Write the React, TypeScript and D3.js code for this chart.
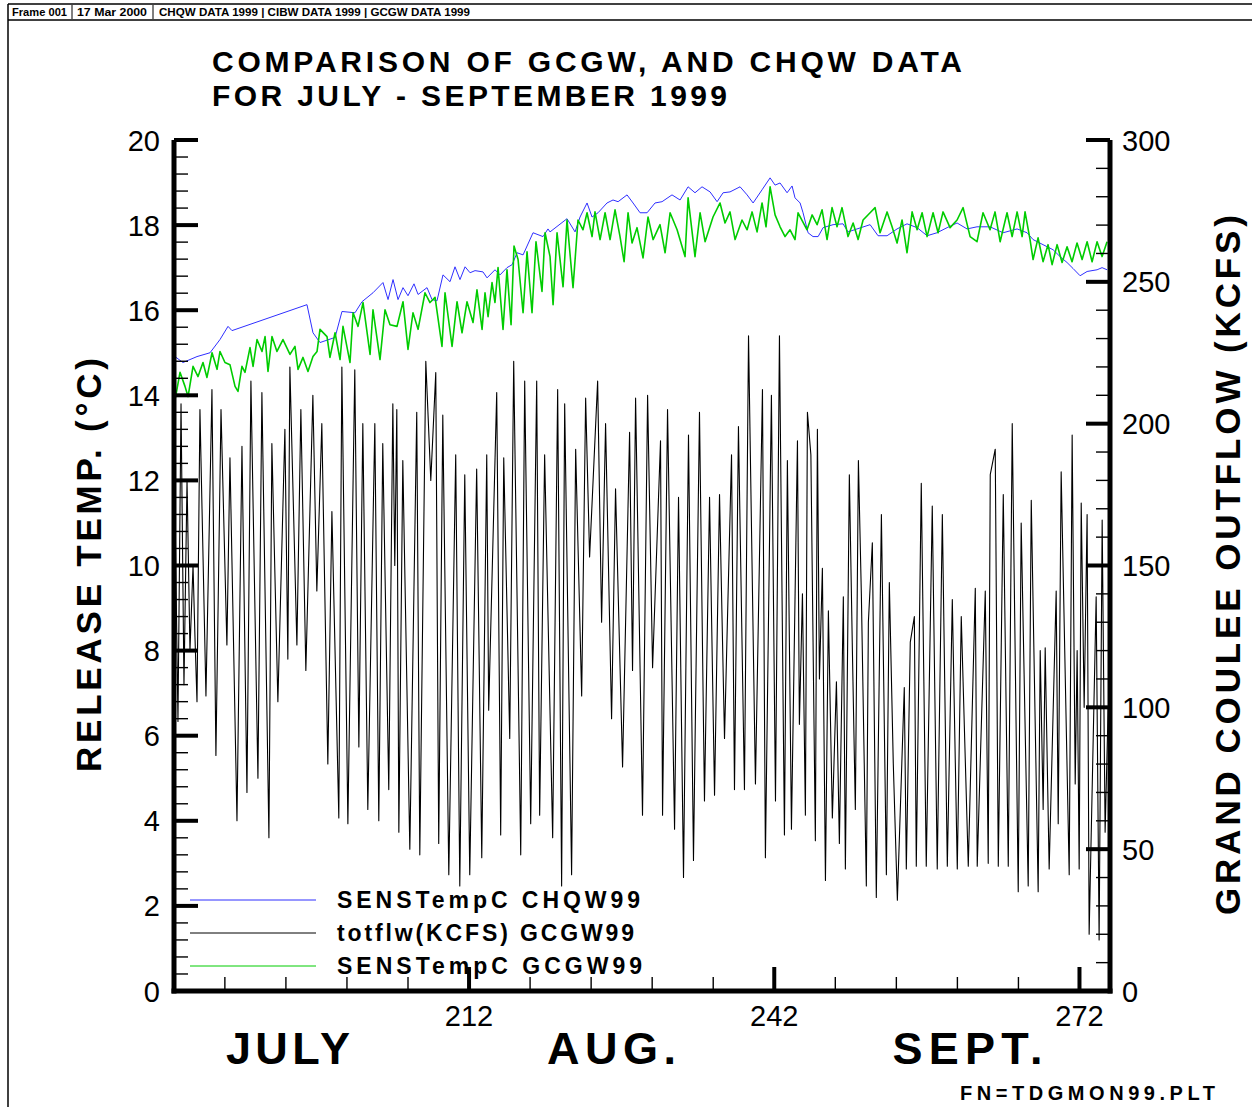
import React from 'react';
import * as d3 from 'd3';

// ---- data (day of year 1999) ----
const flowDay = [
  183.10, 183.39, 183.69, 183.98, 184.28, 184.57, 184.87, 185.06, 185.26, 185.55,
  186.14, 186.73, 187.12, 187.62, 188.20, 188.50, 189.19, 189.68, 190.17, 190.56,
  191.25, 191.64, 192.33, 192.62, 193.21, 193.90, 194.19, 194.39, 195.08, 195.47,
  195.96, 196.65, 197.04, 197.53, 198.12, 198.52, 199.20, 199.50, 200.09, 200.77,
  201.17, 201.56, 202.05, 202.74, 203.13, 203.52, 204.11, 204.51, 204.70, 204.90,
  205.10, 205.49, 206.18, 206.86, 207.16, 207.75, 208.24, 208.73, 209.02, 209.42,
  210.01, 210.69, 211.09, 211.58, 212.07, 212.75, 213.25, 213.74, 213.93, 214.72,
  215.11, 215.41, 216.00, 216.39, 217.08, 217.47, 218.06, 218.65, 218.94, 219.43,
  220.22, 220.71, 221.10, 221.40, 222.08, 222.48, 223.07, 223.46, 223.85, 224.64,
  225.03, 225.42, 226.01, 226.40, 227.09, 227.78, 228.07, 228.37, 229.05, 229.55,
  230.04, 230.82, 231.02, 231.51, 232.20, 232.59, 233.08, 233.57, 234.06, 234.65,
  235.14, 235.64, 236.13, 236.62, 237.11, 237.80, 238.09, 238.48, 239.07, 239.47,
  240.15, 240.84, 241.13, 241.72, 242.12, 242.51, 243.00, 243.29, 243.69, 244.28,
  244.47, 244.77, 245.06, 245.26, 245.60, 246.04, 246.24, 246.44, 246.73, 247.03,
  247.32, 247.71, 248.11, 248.40, 248.79, 248.99, 249.38, 249.68, 249.97, 250.27,
  250.56, 251.05, 251.25, 251.64, 252.03, 252.53, 253.02, 253.31, 253.70, 254.10,
  254.78, 254.98, 255.37, 255.77, 255.96, 256.45, 256.94, 257.53, 258.02, 258.52,
  259.01, 259.50, 259.99, 260.38, 261.07, 261.76, 261.95, 262.74, 263.03, 263.23,
  263.72, 264.02, 264.51, 265.00, 265.39, 265.98, 266.27, 266.96, 267.26, 267.94,
  268.14, 268.43, 268.63, 269.02, 269.71, 269.91, 270.20, 270.99, 271.28, 271.58,
  271.77, 271.97, 272.17, 272.46, 272.75, 272.95, 273.64, 273.93, 274.23, 274.52,
  274.82,
];
const flowKcfs = [
  170, 95, 207, 108, 180, 120, 150, 125, 102, 205,
  104, 212, 83, 205, 122, 188, 60, 192, 70, 215,
  75, 211, 54, 193, 102, 198, 117, 220, 122, 205,
  113, 210, 141, 200, 80, 169, 61, 220, 59, 219,
  86, 200, 64, 200, 60, 193, 71, 207, 150, 205,
  56, 187, 50, 204, 48, 222, 180, 218, 52, 203,
  41, 189, 37, 182, 41, 184, 47, 189, 99, 211,
  55, 188, 89, 222, 48, 215, 59, 215, 62, 189,
  54, 212, 37, 207, 41, 191, 104, 209, 153, 215,
  130, 200, 96, 177, 79, 197, 113, 209, 62, 210,
  114, 194, 62, 205, 57, 174, 40, 196, 46, 204,
  67, 174, 69, 175, 89, 189, 71, 199, 71, 231,
  73, 212, 47, 210, 67, 231, 55, 187, 57, 194,
  94, 140, 62, 204, 189, 53, 198, 110, 149, 39,
  134, 61, 109, 52, 139, 43, 182, 120, 64, 187,
  140, 37, 130, 158, 33, 168, 41, 144, 80, 32,
  107, 43, 123, 132, 44, 179, 44, 171, 43, 168,
  44, 138, 43, 132, 44, 142, 44, 141, 45, 182,
  191, 44, 175, 44, 200, 35, 165, 37, 173, 35,
  120, 64, 121, 43, 141, 59, 183, 41, 196, 73,
  120, 43, 172, 100, 168, 20, 139, 18, 166, 56,
  100,
];

const chqwDay = [
  183.10, 183.88, 185.26, 186.54, 187.52, 188.31, 188.70, 196.07, 196.66, 197.35,
  198.83, 199.51, 200.79, 201.48, 202.56, 203.54, 204.04, 204.53, 205.02, 205.51,
  206.00, 206.59, 206.99, 207.87, 208.36, 208.85, 209.44, 210.13, 210.62, 211.11,
  211.61, 212.10, 212.59, 213.37, 213.77, 214.55, 215.05, 215.73, 216.23, 216.72,
  217.31, 218.29, 219.27, 219.76, 219.96, 221.63, 222.42, 222.91, 223.60, 224.09,
  224.68, 225.56, 226.15, 226.65, 227.53, 228.12, 228.81, 229.50, 230.28, 230.97,
  231.95, 232.74, 233.53, 234.21, 234.90, 235.69, 236.38, 236.97, 237.65, 238.64,
  239.33, 239.92, 240.80, 241.59, 242.08, 242.57, 243.26, 243.75, 244.04, 244.54,
  244.83, 245.32, 245.81, 246.31, 246.80, 247.78, 248.76, 249.25, 250.14, 251.42,
  252.20, 253.09, 254.07, 255.05, 256.04, 257.02, 258.00, 258.99, 259.97, 260.95,
  261.93, 263.21, 264.49, 265.87, 266.85, 267.44, 268.42, 269.41, 270.09, 270.78,
  271.37, 272.06, 272.75, 273.73, 274.22, 274.71,
];
const chqwTemp = [
  14.91, 14.77, 14.91, 15.00, 15.31, 15.62, 15.52, 16.13, 15.47, 15.24,
  15.36, 15.97, 15.94, 16.20, 16.41, 16.65, 16.25, 16.72, 16.25, 16.53,
  16.34, 16.62, 16.37, 16.53, 16.25, 16.22, 16.83, 16.67, 17.02, 16.72,
  17.02, 16.88, 16.93, 16.90, 16.76, 16.95, 16.83, 17.00, 17.07, 17.35,
  17.30, 17.82, 17.73, 17.91, 17.84, 18.15, 17.84, 18.19, 18.52, 18.19,
  18.29, 18.52, 18.59, 18.55, 18.71, 18.52, 18.29, 18.29, 18.52, 18.55,
  18.71, 18.59, 18.90, 18.76, 18.90, 18.78, 18.55, 18.76, 18.78, 18.90,
  18.71, 18.52, 18.83, 19.11, 18.94, 18.99, 18.76, 18.92, 18.64, 18.52,
  18.29, 17.82, 17.73, 17.73, 17.94, 18.01, 18.03, 17.84, 17.91, 18.01,
  17.75, 17.75, 17.91, 18.03, 17.94, 17.75, 17.82, 17.94, 18.05, 17.91,
  17.96, 17.96, 17.82, 17.91, 17.82, 17.66, 17.54, 17.42, 17.26, 17.12,
  16.98, 16.81, 16.91, 16.95, 17.00, 16.95,
];

const gcgwDay = [
  183.10, 183.29, 183.59, 184.08, 184.38, 184.87, 185.36, 185.85, 186.24, 186.74,
  187.23, 187.52, 188.01, 188.50, 189.00, 189.29, 189.68, 189.98, 190.47, 190.77,
  191.16, 191.65, 191.95, 192.24, 192.63, 193.12, 193.71, 194.40, 194.89, 195.19,
  195.68, 196.17, 196.66, 197.06, 197.35, 198.04, 198.33, 198.83, 199.32, 199.61,
  200.30, 200.60, 201.09, 201.58, 202.27, 202.56, 203.25, 203.74, 204.23, 204.92,
  205.51, 206.00, 206.49, 206.99, 207.67, 208.16, 208.66, 209.34, 209.64, 210.33,
  210.82, 211.31, 211.80, 212.39, 212.78, 213.28, 213.57, 213.87, 214.26, 214.55,
  214.85, 215.34, 215.73, 216.13, 216.42, 216.82, 217.31, 217.70, 218.19, 218.58,
  219.17, 219.47, 219.96, 220.26, 220.65, 221.24, 221.63, 222.22, 222.71, 223.20,
  223.60, 224.09, 224.38, 224.88, 225.37, 225.86, 226.35, 226.84, 227.24, 227.63,
  228.02, 228.51, 229.10, 229.59, 230.09, 230.77, 231.27, 231.76, 232.45, 233.23,
  233.53, 234.21, 234.71, 235.20, 235.98, 236.67, 237.16, 237.65, 238.15, 238.83,
  239.33, 239.82, 240.31, 240.80, 241.19, 241.59, 242.08, 242.57, 243.06, 243.55,
  244.04, 244.34, 245.22, 245.72, 246.21, 246.70, 247.19, 247.68, 248.17, 248.66,
  249.25, 249.75, 250.24, 250.73, 251.42, 251.91, 252.40, 253.09, 253.58, 254.07,
  254.56, 255.05, 255.55, 256.04, 256.53, 257.02, 257.61, 258.10, 258.59, 259.28,
  259.97, 260.56, 261.25, 261.93, 262.52, 263.21, 263.70, 264.20, 264.88, 265.38,
  265.87, 266.36, 266.65, 267.14, 267.44, 267.93, 268.42, 268.91, 269.31, 269.80,
  270.29, 270.78, 271.27, 271.76, 272.26, 272.75, 273.24, 273.73, 274.22, 274.71,
];
const gcgwTemp = [
  13.90, 14.14, 14.54, 14.21, 13.97, 14.68, 14.44, 14.77, 14.42, 15.00,
  14.61, 15.03, 14.77, 14.72, 14.21, 14.09, 14.68, 14.54, 15.12, 14.68,
  15.31, 15.03, 15.38, 14.56, 15.38, 15.03, 15.31, 14.96, 15.15, 14.61,
  14.89, 14.56, 14.91, 15.03, 15.55, 15.38, 14.89, 15.47, 14.84, 15.62,
  14.77, 15.94, 15.62, 16.18, 14.96, 16.01, 14.84, 16.01, 15.66, 15.62,
  16.20, 15.08, 15.94, 15.55, 16.41, 16.18, 16.30, 15.15, 16.41, 15.15,
  16.20, 15.47, 16.20, 15.71, 16.48, 15.55, 16.41, 15.85, 16.65, 16.18,
  17.00, 15.55, 16.95, 15.66, 17.51, 17.19, 15.94, 17.37, 15.94, 17.61,
  16.44, 17.82, 17.26, 16.13, 17.82, 16.55, 18.12, 16.53, 18.12, 17.89,
  18.29, 17.73, 18.31, 17.66, 18.29, 17.66, 18.36, 17.73, 17.14, 18.29,
  17.58, 17.94, 17.23, 18.19, 17.66, 18.01, 17.35, 18.29, 17.89, 17.26,
  18.64, 17.26, 18.29, 17.61, 18.19, 18.52, 18.05, 18.31, 17.66, 18.12,
  17.89, 18.31, 17.84, 18.52, 17.96, 18.90, 18.24, 17.96, 17.73, 17.89,
  17.66, 18.29, 17.89, 18.24, 18.01, 18.36, 17.66, 18.41, 17.96, 18.41,
  17.73, 18.05, 17.66, 18.12, 18.29, 18.41, 17.82, 18.31, 17.96, 17.58,
  18.12, 17.35, 18.31, 17.89, 18.29, 17.73, 18.29, 17.82, 18.31, 17.94,
  18.12, 18.41, 17.73, 17.61, 18.29, 17.89, 18.31, 17.61, 18.29, 17.73,
  18.31, 17.73, 18.31, 17.66, 17.19, 17.70, 17.14, 17.54, 17.07, 17.54,
  17.12, 17.49, 17.14, 17.58, 17.19, 17.61, 17.14, 17.61, 17.26, 17.61,
];

const tempTicks = [0, 2, 4, 6, 8, 10, 12, 14, 16, 18, 20];
const flowTicks = [0, 50, 100, 150, 200, 250, 300];
const dayTicks = [212, 242, 272];
const dayMinorTicks = [188, 194, 200, 206, 218, 224, 230, 236, 248, 254, 260, 266];
const months = [
  { label: 'JULY', day: 194.2, len: 124 },
  { label: 'AUG.', day: 226.0, len: 129 },
  { label: 'SEPT.', day: 261.0, len: 150 },
];
const legendItems = [
  { label: 'SENSTempC CHQW99', color: '#2f2fff', len: 303 },
  { label: 'totflw(KCFS) GCGW99', color: '#000000', len: 297 },
  { label: 'SENSTempC GCGW99', color: '#00cc00', len: 305 },
];

const FONT = '"Liberation Sans", Arial, Helvetica, sans-serif';

export default function App() {
  const W = 1252;
  const H = 1107;
  const x = d3.scaleLinear().domain([183, 275]).range([174, 1110]);
  const yT = d3.scaleLinear().domain([0, 20]).range([991, 140]);
  const yF = d3.scaleLinear().domain([0, 300]).range([991, 140]);

  const flowLine = d3.line<number>().x((_, i) => x(flowDay[i])).y(d => yF(d));
  const chqwLine = d3.line<number>().x((_, i) => x(chqwDay[i])).y(d => yT(d));
  const gcgwLine = d3.line<number>().x((_, i) => x(gcgwDay[i])).y(d => yT(d));

  const tempMinor = d3.range(0, 20.001, 0.4).filter(v => Math.abs(v / 2 - Math.round(v / 2)) > 0.01);
  const flowMinor = d3.range(0, 301, 10).filter(v => v % 50 !== 0);

  const [x0, x1] = x.range();
  const yb = yT(0);
  const yt = yT(20);

  return (
    <svg width={W} height={H} style={{ position: 'absolute', left: 0, top: 0, background: '#fff' }}
      fontFamily={FONT}>
      <defs>
        <clipPath id="plot">
          <rect x={x0} y={yt - 5} width={x1 - x0} height={yb - yt + 5} />
        </clipPath>
      </defs>

      {/* frame + header */}
      <line x1={8} y1={4} x2={W} y2={4} stroke="#000" strokeWidth={1.5} />
      <line x1={8} y1={20} x2={W} y2={20} stroke="#000" strokeWidth={1.5} />
      <line x1={8} y1={4} x2={8} y2={H} stroke="#000" strokeWidth={1.5} />
      <line x1={72} y1={5} x2={72} y2={19} stroke="#000" strokeWidth={1} />
      <line x1={153} y1={5} x2={153} y2={19} stroke="#000" strokeWidth={1} />
      <g fontSize={10} fontWeight="bold">
        <text x={12} y={16} textLength={55} lengthAdjust="spacingAndGlyphs">Frame 001</text>
        <text x={77} y={16} textLength={70} lengthAdjust="spacingAndGlyphs">17 Mar 2000</text>
        <text x={159} y={16} textLength={311} lengthAdjust="spacingAndGlyphs">CHQW DATA 1999 | CIBW DATA 1999 | GCGW DATA 1999</text>
      </g>

      {/* title */}
      <g fontSize={30} fontWeight="bold">
        <text x={212} y={72} textLength={750} lengthAdjust="spacing">COMPARISON OF GCGW, AND CHQW DATA</text>
        <text x={212} y={106} textLength={515} lengthAdjust="spacing">FOR JULY - SEPTEMBER 1999</text>
      </g>

      {/* series */}
      <g clipPath="url(#plot)" fill="none" strokeLinejoin="round">
        <path d={flowLine(flowKcfs) || ''} stroke="#000" strokeWidth={1.1} />
        <path d={chqwLine(chqwTemp) || ''} stroke="#2f2fff" strokeWidth={1} />
        <path d={gcgwLine(gcgwTemp) || ''} stroke="#00cc00" strokeWidth={1.6} />
      </g>

      {/* legend */}
      {legendItems.map((it, i) => (
        <g key={it.label}>
          <line x1={190} x2={316} y1={900 + i * 33} y2={900 + i * 33} stroke={it.color} strokeWidth={1} />
          <text x={337} y={908 + i * 33} fontSize={23} fontWeight="bold" textLength={it.len} lengthAdjust="spacing">
            {it.label}
          </text>
        </g>
      ))}

      {/* left axis */}
      <line x1={x0} x2={x0} y1={yt} y2={yb + 2.5} stroke="#000" strokeWidth={5} />
      {tempMinor.map(v => (
        <line key={'lm' + v} x1={x0} x2={x0 + 14} y1={yT(v)} y2={yT(v)} stroke="#000" strokeWidth={1.4} />
      ))}
      {tempTicks.map(v => (
        <g key={'lt' + v}>
          <line x1={x0} x2={x0 + 24} y1={yT(v)} y2={yT(v)} stroke="#000" strokeWidth={4} />
          <text x={160} y={yT(v) + 10.5} fontSize={29} textAnchor="end">{v}</text>
        </g>
      ))}

      {/* right axis */}
      <line x1={x1} x2={x1} y1={yt} y2={yb + 2.5} stroke="#000" strokeWidth={5} />
      {flowMinor.map(v => (
        <line key={'rm' + v} x1={x1} x2={x1 - 14} y1={yF(v)} y2={yF(v)} stroke="#000" strokeWidth={1.4} />
      ))}
      {flowTicks.map(v => (
        <g key={'rt' + v}>
          <line x1={x1} x2={x1 - 24} y1={yF(v)} y2={yF(v)} stroke="#000" strokeWidth={4} />
          <text x={1122} y={yF(v) + 10.5} fontSize={29}>{v}</text>
        </g>
      ))}

      {/* bottom axis */}
      <line x1={x0 - 2.5} x2={x1 + 2.5} y1={yb} y2={yb} stroke="#000" strokeWidth={5} />
      {dayMinorTicks.map(d => (
        <line key={'bm' + d} x1={x(d)} x2={x(d)} y1={yb} y2={yb - 14} stroke="#000" strokeWidth={1.4} />
      ))}
      {dayTicks.map(d => (
        <g key={'bt' + d}>
          <line x1={x(d)} x2={x(d)} y1={yb} y2={yb - 24} stroke="#000" strokeWidth={4} />
          <text x={x(d)} y={1026} fontSize={29} textAnchor="middle">{d}</text>
        </g>
      ))}
      {months.map(m => (
        <text key={m.label} x={x(m.day)} y={1064} fontSize={45} fontWeight="bold" textAnchor="middle"
          textLength={m.len} lengthAdjust="spacing">{m.label}</text>
      ))}

      {/* axis titles */}
      <text transform="translate(101,565) rotate(-90)" fontSize={35} fontWeight="bold" textAnchor="middle"
        textLength={414} lengthAdjust="spacing">RELEASE TEMP. (°C)</text>
      <text transform="translate(1240,565) rotate(-90)" fontSize={35} fontWeight="bold" textAnchor="middle"
        textLength={700} lengthAdjust="spacing">GRAND COULEE OUTFLOW (KCFS)</text>

      <text x={960} y={1100} fontSize={20} fontWeight="bold" textLength={255} lengthAdjust="spacing">FN=TDGMON99.PLT</text>
    </svg>
  );
}
